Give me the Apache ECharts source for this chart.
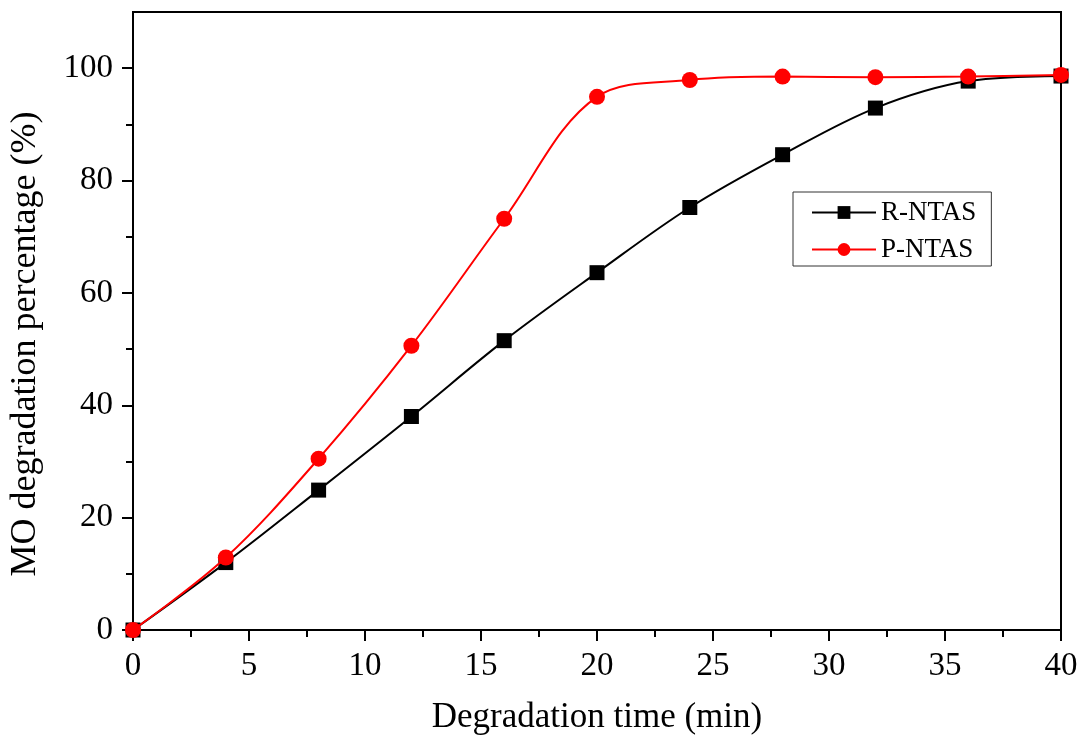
<!DOCTYPE html>
<html>
<head>
<meta charset="utf-8">
<script src="https://cdn.jsdelivr.net/npm/echarts@6/dist/echarts.min.js"></script>
<style>
html,body{margin:0;padding:0;background:#fff;}
#main{width:1081px;height:739px;}
</style>
</head>
<body>
<div id="main"></div>
<script>
// 数据
var timeList = [0, 4, 8, 12, 16, 20, 24, 28, 32, 36, 40];
var rNtas = [0, 12, 24.9, 38, 51.5, 63.6, 75.2, 84.6, 92.9, 97.7, 98.6];
var pNtas = [0, 12.9, 30.5, 50.6, 73.2, 94.9, 97.9, 98.5, 98.4, 98.5, 98.8];
var yMajor = [0, 20, 40, 60, 80, 100];
var yMinor = [10, 30, 50, 70, 90];

function pairs(xs, ys) {
	var arr = [];
	for (let i = 0; i < xs.length; i++) {
		arr.push([xs[i], ys[i]]);
	}
	return arr;
}

var fontName = 'Liberation Serif';
var chart = echarts.init(document.getElementById('main'));

var option = {
	animation: false,
	backgroundColor: '#fff',
	grid: {
		left: 133,
		right: 20,
		top: 12,
		bottom: 109,
		outerBoundsMode: 'none',
		containLabel: false,
		show: true,
		borderColor: '#000',
		borderWidth: 2,
		backgroundColor: 'transparent'
	},
	legend: {
		left: 793,
		top: 192,
		orient: 'vertical',
		padding: [7, 15, 3, 18],
		itemGap: 10,
		itemWidth: 64,
		itemHeight: 16,
		borderColor: '#333',
		borderWidth: 1,
		textStyle: { fontFamily: fontName, fontSize: 27, color: '#000' },
		data: ['R-NTAS', 'P-NTAS']
	},
	xAxis: {
		type: 'value',
		min: 0,
		max: 40,
		interval: 5,
		name: 'Degradation time (min)',
		nameLocation: 'middle',
		nameGap: 70,
		nameTextStyle: { fontFamily: fontName, fontSize: 35, color: '#000' },
		axisLine: { show: true, onZero: false, lineStyle: { color: '#000', width: 2 } },
		axisTick: { show: true, inside: false, length: 11, lineStyle: { color: '#000', width: 2 } },
		minorTick: { show: true, splitNumber: 2, length: 7, lineStyle: { color: '#000', width: 2 } },
		axisLabel: { fontFamily: fontName, fontSize: 33, color: '#000', margin: 20 },
		splitLine: { show: false }
	},
	yAxis: [{
		type: 'value',
		min: 0,
		max: 110,
		interval: 20,
		name: 'MO degradation percentage (%)',
		nameLocation: 'middle',
		nameGap: 89,
		nameTextStyle: { fontFamily: fontName, fontSize: 36, color: '#000', padding: [0, 46, 0, 0] },
		axisLine: { show: true, onZero: false, lineStyle: { color: '#000', width: 2 } },
		axisTick: { show: true, length: 11, customValues: yMajor, lineStyle: { color: '#000', width: 2 } },
		axisLabel: { fontFamily: fontName, fontSize: 33, color: '#000', margin: 20, customValues: yMajor },
		splitLine: { show: false }
	}, {
		// 次刻度
		type: 'value',
		position: 'left',
		min: 0,
		max: 110,
		axisLine: { show: false },
		axisTick: { show: true, length: 7, customValues: yMinor, lineStyle: { color: '#000', width: 2 } },
		axisLabel: { show: false },
		splitLine: { show: false }
	}],
	series: [{
		name: 'R-NTAS',
		type: 'line',
		smooth: 0.35,
		data: pairs(timeList, rNtas),
		symbol: 'rect',
		symbolSize: 15,
		lineStyle: { color: '#000', width: 2 },
		itemStyle: { color: '#000' },
		z: 3
	}, {
		name: 'P-NTAS',
		type: 'line',
		smooth: 0.35,
		data: pairs(timeList, pNtas),
		symbol: 'circle',
		symbolSize: 16,
		lineStyle: { color: '#ff0000', width: 2 },
		itemStyle: { color: '#ff0000' },
		z: 4
	}]
};
chart.setOption(option);
</script>
</body>
</html>
